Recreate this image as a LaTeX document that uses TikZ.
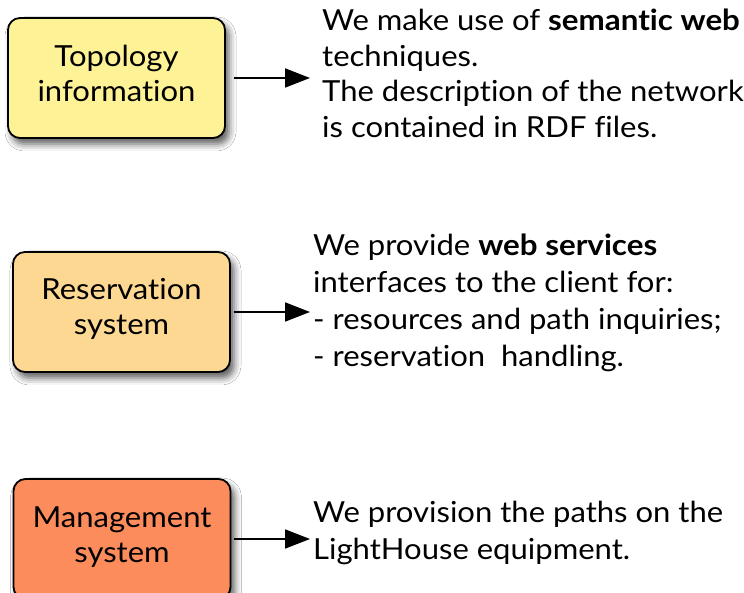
\documentclass[tikz,border=0pt]{standalone}
\usepackage{fontspec}
\setmainfont{Lato}[Ligatures=CommonOff, FakeStretch=1.07, BoldFeatures={FakeStretch=1.08}]
\usetikzlibrary{arrows.meta,shadows.blur}
\definecolor{fillA}{RGB}{254,242,150}
\definecolor{fillB}{RGB}{253,216,146}
\definecolor{fillC}{RGB}{252,140,92}
\begin{document}
\begin{tikzpicture}[x=1pt,y=1pt,
  box/.style={draw=black, line width=1.8pt, rounded corners=12pt,
    minimum width=217pt, minimum height=120pt, inner sep=0pt,
    blur shadow={shadow xshift=4pt, shadow yshift=-6pt, shadow blur radius=7pt, shadow opacity=65}},
  boxtext/.style={anchor=base, align=center, inner sep=0pt, font=\fontsize{29}{35}\selectfont},
  desc/.style={anchor=base west, align=left, inner sep=0pt},
  arr/.style={line width=1.8pt, -{Triangle[length=25pt,width=19pt]}}]
\useasboundingbox (0,0) rectangle (744,593);
\clip (0,0) rectangle (744,593);
\fill[white] (0,0) rectangle (744,593);

\node[box, fill=fillA] (b1) at (116.5,515) {};
\node[box, fill=fillB] (b2) at (121.5,281) {};
\node[box, fill=fillC] (b3) at (122,54) {};

\node[boxtext] (t1) at (b1.center |- 0,491) {Topology\\information};
\node[boxtext] (t2) at (b2.center |- 0,258) {Reservation\\system};
\node[boxtext] (t3) at (b3.center |- 0,30) {Management\\system};

\node[desc, font=\fontsize{29}{35.5}\selectfont] (d1) at (322,455.5) {We make use of \textbf{semantic web}\\techniques.\\The description of the network\\is contained in RDF files.};
\node[desc, font=\fontsize{29}{37}\selectfont] (d2) at (313,226) {We provide \textbf{web services}\\interfaces to the client for:\\- resources and path inquiries;\\- reservation\ \ handling.};
\node[desc, font=\fontsize{29}{37}\selectfont] (d3) at (313,33) {We provision the paths on the\\LightHouse equipment.};

\coordinate (e1) at (310,516);
\coordinate (e2) at (310,282);
\coordinate (e3) at (310,56);

\draw[arr] ([xshift=8pt]b1.east) -- (b1.east -| e1);
\draw[arr] ([xshift=3pt]b2.east) -- (b2.east -| e2);
\draw[arr] ([xshift=3pt]b3.east) -- (b3.east -| e3);
\end{tikzpicture}
\end{document}
